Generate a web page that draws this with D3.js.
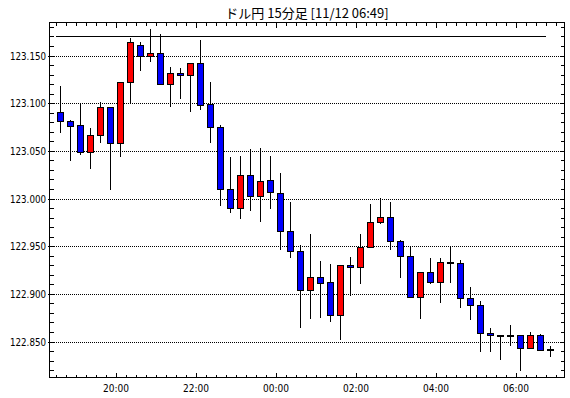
<!DOCTYPE html>
<html>
<head>
<meta charset="utf-8">
<script src="https://cdn.jsdelivr.net/npm/d3@7"></script>
<style>
	body { margin: 0; background: #fff; }
	svg { display: block; }
</style>
</head>
<body>
<svg id="chart"></svg>
<script>
// 15 minute candles, USD/JPY
let candleTimes = [
	"11/11 18:30", "11/11 18:45", "11/11 19:00", "11/11 19:15", "11/11 19:30", "11/11 19:45",
	"11/11 20:00", "11/11 20:15", "11/11 20:30", "11/11 20:45", "11/11 21:00", "11/11 21:15",
	"11/11 21:30", "11/11 21:45", "11/11 22:00", "11/11 22:15", "11/11 22:30", "11/11 22:45",
	"11/11 23:00", "11/11 23:15", "11/11 23:30", "11/11 23:45", "11/12 00:00", "11/12 00:15",
	"11/12 00:30", "11/12 00:45", "11/12 01:00", "11/12 01:15", "11/12 01:30", "11/12 01:45",
	"11/12 02:00", "11/12 02:15", "11/12 02:30", "11/12 02:45", "11/12 03:00", "11/12 03:15",
	"11/12 03:30", "11/12 03:45", "11/12 04:00", "11/12 04:15", "11/12 04:30", "11/12 04:45",
	"11/12 05:00", "11/12 05:15", "11/12 05:30", "11/12 05:45", "11/12 06:00", "11/12 06:15",
	"11/12 06:30", "11/12 06:45"
];

let opens = [
	123.090, 123.081, 123.077, 123.048, 123.066, 123.095, 123.058, 123.122, 123.161, 123.149,
	123.152, 123.120, 123.131, 123.129, 123.142, 123.099, 123.074, 123.009, 122.990, 123.024,
	123.002, 123.019, 123.005, 122.965, 122.944, 122.904, 122.917, 122.912, 122.877, 122.930,
	122.928, 122.949, 122.975, 122.980, 122.955, 122.939, 122.896, 122.922, 122.912, 122.932,
	122.932, 122.895, 122.888, 122.858, 122.856, 122.856, 122.856, 122.843, 122.856, 122.841
];
let highs = [
	123.118, 123.082, 123.100, 123.074, 123.101, 123.096, 123.122, 123.168, 123.164, 123.178,
	123.173, 123.138, 123.137, 123.142, 123.166, 123.122, 123.077, 123.044, 123.045, 123.052,
	123.053, 123.045, 123.027, 122.996, 122.951, 122.963, 122.934, 122.931, 122.930, 122.939,
	122.963, 122.994, 123.001, 122.996, 122.956, 122.949, 122.922, 122.938, 122.938, 122.950,
	122.935, 122.907, 122.893, 122.864, 122.856, 122.867, 122.856, 122.860, 122.858, 122.845
];
let lows = [
	123.069, 123.039, 123.046, 123.031, 123.058, 123.009, 123.044, 123.100, 123.134, 123.143,
	123.120, 123.096, 123.104, 123.091, 123.093, 123.058, 122.992, 122.985, 122.978, 122.987,
	122.975, 122.989, 122.946, 122.938, 122.864, 122.874, 122.875, 122.870, 122.852, 122.898,
	122.910, 122.949, 122.973, 122.946, 122.917, 122.896, 122.874, 122.910, 122.890, 122.911,
	122.885, 122.873, 122.839, 122.839, 122.831, 122.845, 122.819, 122.842, 122.840, 122.834
];
let closes = [
	123.081, 123.076, 123.048, 123.066, 123.095, 123.058, 123.122, 123.164, 123.149, 123.152,
	123.120, 123.131, 123.129, 123.142, 123.098, 123.074, 123.009, 122.990, 123.024, 123.002,
	123.018, 123.006, 122.965, 122.944, 122.904, 122.917, 122.911, 122.877, 122.930, 122.928,
	122.949, 122.975, 122.980, 122.955, 122.939, 122.896, 122.922, 122.912, 122.933, 122.932,
	122.895, 122.888, 122.858, 122.856, 122.856, 122.856, 122.843, 122.856, 122.841, 122.841
];

// reference line across the top
let highLine = 123.170;
let highLineFrom = "11/11 18:30";
let highLineTo = "11/12 06:45";

let yTickValues = [122.850, 122.900, 122.950, 123.000, 123.050, 123.100, 123.150];
let xTickLabels = ["11/11 20:00", "11/11 22:00", "11/12 00:00", "11/12 02:00", "11/12 04:00", "11/12 06:00"];
let xDomain = ["11/11 18:21", "11/12 07:13:30"];
let yDomain = [122.81224, 123.18462];

let title = "ドル円 15分足 [11/12 06:49]";

let w = 570, h = 398;
let plotLeft = 49.5, plotRight = 564.5, plotTop = 22.5, plotBottom = 377.5;
let chart, xScale, yScale;
let parseTime = d3.timeParse("%m/%d %H:%M");
let parseTimeSec = d3.timeParse("%m/%d %H:%M:%S");

let labelFont = "'Liberation Sans Narrow', 'DejaVu Sans Condensed', 'Liberation Sans', sans-serif";

function makeChart() {
	chart = d3.select('#chart')
		.attr('width', w)
		.attr('height', h);

	chart.append('rect')
		.attr('width', w)
		.attr('height', h)
		.attr('fill', '#fff');

	xScale = d3.scaleTime()
		.domain([parseTime(xDomain[0]), parseTimeSec(xDomain[1])])
		.range([plotLeft, plotRight]);

	yScale = d3.scaleLinear()
		.domain(yDomain)
		.range([plotBottom, plotTop]);

	// dotted gridlines
	chart.append('g')
		.attr('class', 'y-grid')
		.attr('transform', `translate(${plotLeft},0)`)
		.call(d3.axisLeft(yScale).tickValues(yTickValues).tickSize(-(plotRight - plotLeft)).tickFormat(''))
		.call((g) => g.select('.domain').remove())
		.selectAll('line')
		.attr('stroke', '#000')
		.attr('stroke-dasharray', '1,1')
		.attr('shape-rendering', 'crispEdges');

	// minor ticks every 0.01 on both sides, pointing inward
	let minorY = d3.range(122.82, 123.1801, 0.01);
	let minorX = d3.timeMinute.every(15).range(xScale.domain()[0], xScale.domain()[1]);
	let majorX = xTickLabels.map(parseTime);

	addAxis(d3.axisLeft(yScale).tickValues(minorY).tickSize(-4), `translate(${plotLeft},0)`);
	addAxis(d3.axisRight(yScale).tickValues(minorY).tickSize(-4), `translate(${plotRight},0)`);
	addAxis(d3.axisLeft(yScale).tickValues(yTickValues).tickSize(2), `translate(${plotLeft},0)`);
	addAxis(d3.axisBottom(xScale).tickValues(minorX).tickSize(-3), `translate(0,${plotBottom})`);
	addAxis(d3.axisTop(xScale).tickValues(minorX).tickSize(-3), `translate(0,${plotTop})`);
	addAxis(d3.axisBottom(xScale).tickValues(majorX).tickSize(-5), `translate(0,${plotBottom})`);
	addAxis(d3.axisTop(xScale).tickValues(majorX).tickSize(-5), `translate(0,${plotTop})`);

	// tick labels (squeezed to the narrow bitmap look of the original)
	let yLabels = chart.append('g')
		.attr('transform', `translate(${plotLeft},0)`)
		.call(d3.axisLeft(yScale).tickValues(yTickValues).tickSize(0).tickPadding(3.5).tickFormat(d3.format('.3f')));
	yLabels.select('.domain').remove();
	yLabels.selectAll('text')
		.attr('font-family', labelFont)
		.attr('font-size', 11)
		.attr('fill', '#000')
		.attr('textLength', 36)
		.attr('lengthAdjust', 'spacingAndGlyphs');

	let xLabels = chart.append('g')
		.attr('transform', `translate(0,${plotBottom})`)
		.call(d3.axisBottom(xScale).tickValues(majorX).tickSize(0).tickPadding(6.5).tickFormat(d3.timeFormat('%H:%M')));
	xLabels.select('.domain').remove();
	xLabels.selectAll('text')
		.attr('font-family', labelFont)
		.attr('font-size', 11)
		.attr('fill', '#000')
		.attr('textLength', 26)
		.attr('lengthAdjust', 'spacingAndGlyphs');

	// frame
	chart.append('rect')
		.attr('x', plotLeft)
		.attr('y', plotTop)
		.attr('width', plotRight - plotLeft)
		.attr('height', plotBottom - plotTop)
		.attr('fill', 'none')
		.attr('stroke', '#000')
		.attr('shape-rendering', 'crispEdges');

	chart.append('text')
		.attr('x', (plotLeft + plotRight) / 2)
		.attr('y', 17.5)
		.attr('text-anchor', 'middle')
		.attr('font-family', "'Noto Sans CJK JP', sans-serif")
		.attr('font-size', 13)
		.attr('fill', '#000')
		.text(title);
}

function addAxis(axis, transform) {
	let g = chart.append('g')
		.attr('transform', transform)
		.call(axis.tickFormat(''));
	g.select('.domain').remove();
	g.selectAll('line').attr('stroke', '#000').attr('shape-rendering', 'crispEdges');
}

function drawCandles() {
	let data = candleTimes.map((t, i) => ({
		time: parseTime(t),
		open: opens[i],
		high: highs[i],
		low: lows[i],
		close: closes[i]
	}));

	// candle sits in the middle of its 15 min slot
	let cx = (d) => xScale(d3.timeSecond.offset(d.time, 450));
	let half = 3;

	chart.append('line')
		.attr('x1', xScale(parseTime(highLineFrom)))
		.attr('x2', xScale(parseTime(highLineTo)))
		.attr('y1', Math.round(yScale(highLine) - 0.5) + 0.5)
		.attr('y2', Math.round(yScale(highLine) - 0.5) + 0.5)
		.attr('stroke', '#000')
		.attr('shape-rendering', 'crispEdges');

	let candles = chart.append('g').attr('class', 'candles')
		.selectAll('g')
		.data(data)
		.enter()
		.append('g');

	candles.append('line')
		.attr('x1', cx)
		.attr('x2', cx)
		.attr('y1', (d) => yScale(d.high))
		.attr('y2', (d) => yScale(d.low))
		.attr('stroke', '#000')
		.attr('shape-rendering', 'crispEdges');

	candles.filter((d) => d.open != d.close)
		.append('rect')
		.attr('x', (d) => cx(d) - half)
		.attr('width', half * 2)
		.attr('y', (d) => yScale(Math.max(d.open, d.close)))
		.attr('height', (d) => Math.abs(yScale(d.open) - yScale(d.close)))
		.attr('fill', (d) => d.close > d.open ? '#ff0000' : '#0000ff')
		.attr('stroke', '#000')
		.attr('shape-rendering', 'crispEdges');

	// doji: flat bar
	candles.filter((d) => d.open == d.close)
		.append('line')
		.attr('x1', (d) => cx(d) - half - 0.5)
		.attr('x2', (d) => cx(d) + half + 0.5)
		.attr('y1', (d) => yScale(d.open))
		.attr('y2', (d) => yScale(d.open))
		.attr('stroke', '#000')
		.attr('stroke-width', 2)
		.attr('shape-rendering', 'crispEdges');
}

window.onload = function () {
	makeChart();
	drawCandles();
}
</script>
</body>
</html>
